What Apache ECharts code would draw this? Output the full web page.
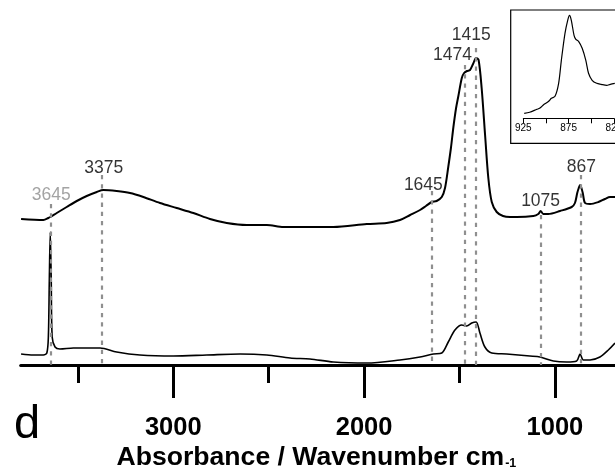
<!DOCTYPE html>
<html>
<head>
<meta charset="utf-8">
<script src="https://cdn.jsdelivr.net/npm/echarts@6/dist/echarts.min.js"></script>
<style>
html,body{margin:0;padding:0;background:#fff;}
#chart{width:615px;height:472px;}
</style>
</head>
<body>
<div id="chart"></div>
<script>
// ---- data (wavenumber in cm-1, absorbance in arbitrary units) ----
const upperWavenumber = [3798,3681,3655,3645,3611,3559,3506,3454,3401,3367,3297,3227,3157,3070,2982,2895,2808,2720,2615,2510,2423,2336,2161,1986,1882,1812,1759,1707,1676,1646,1620,1593,1576,1559,1545,1532,1518,1506,1488,1476,1461,1445,1429,1413,1400,1384,1366,1349,1331,1305,1272,1235,1200,1113,1087,1075,1061,1035,973,912,895,883,875,868,861,854,842,816,772,738,711,685];
const upperAbs = [146,145,147,148,152,158,164,169,173,175,174,172,168,162,157,152,146,142,140,140,138,138,138,141,142,145,150,155,159,163,164,168,177,198,217,238,257,269,287,292,294,295,301,307,305,277,230,187,163,153,149,148,148,149,151,154,151,151,154,158,162,172,177,180,177,172,162,161,163,166,168,168];

const lowerWavenumber = [3798,3734,3681,3663,3655,3650,3645,3640,3635,3620,3594,3524,3384,3297,3175,3000,2825,2650,2510,2388,2284,2161,1986,1812,1707,1637,1593,1559,1524,1488,1462,1436,1413,1393,1367,1331,1253,1131,1078,1008,938,886,868,851,816,764,720,685];
const lowerAbs = [11,10,10,12,28,85,133,85,28,18,16,17,17,13,10,9,10,11,10,7,6,3,2,5,8,11,12,23,35,40,39,42,43,32,18,12,11,9,8,4,3,4,11,5,5,8,15,22];

const insetWavenumber = [924,918,910,907,902,897,894,890,886,883,879,876,874,872,869,867,864,860,856,853,849,844,839,833,829,824];
const insetAbs = [5,6,9,10,14,17,20,22,35,58,85,98,103,98,83,79,77,70,58,45,38,35,34,33,34,35];

const peakLabels = ['3645','3375','1645','1474','1415','1075','867'];
const peakWavenumber = [3645,3375,1645,1474,1415,1075,867];
const peakTop = [161,190,174,300,317,150,190];

const mainTicks = [0,1000,2000,3000,4000];
const insetTicks = [825,875,925];

// ---- styling (not data) ----
const FONT = 'Liberation Sans, Arial, sans-serif';
const labelColor = ['#8c8c8c','#000','#000','#000','#000','#000','#000'];
const labelOffset = [[1,0],[2,2],[-8.5,3],[-12,-1],[-4.5,-4],[0,-5],[1,1]];

const zip = (a,b) => a.map((v,i)=>[v,b[i]]);

const chart = echarts.init(document.getElementById('chart'), null, {renderer:'canvas'});

const hiddenY = (grid, max) => ({gridIndex:grid, type:'value', min:0, max:max, show:false});
const G = {outerBoundsMode:'none', containLabel:false};

chart.setOption({
  animation:false,
  backgroundColor:'#fff',
  title:[
    {
      text:'{a|Absorbance / Wavenumber cm}{s|-1}',
      left:116.5, top:444.5, padding:0,
      textStyle:{
        rich:{
          a:{fontFamily:FONT,fontSize:26.6,fontWeight:'bold',color:'#000',lineHeight:26},
          s:{fontFamily:FONT,fontSize:12.5,fontWeight:'bold',color:'#000',verticalAlign:'bottom',lineHeight:11,padding:[0,0,0,1]}
        }
      }
    },
    {
      text:'d', left:14, top:402, padding:0,
      textStyle:{fontFamily:FONT,fontSize:47,fontWeight:'normal',color:'#000',lineHeight:47}
    }
  ],
  grid:[
    Object.assign({left:20.7, top:0, width:725, height:365}, G),           // main data
    Object.assign({left:-17.5, top:0, width:763.2, height:365}, G),        // main ticks
    Object.assign({left:523.3, top:10.3, width:90.6, height:108}, G),      // inset plot
    Object.assign({left:510.7, top:10, width:200, height:133.3, show:true, borderColor:'#000', borderWidth:1.2, backgroundColor:'transparent'}, G) // inset frame
  ],
  xAxis:[
    {gridIndex:0, type:'value', min:0, max:3800, inverse:true,
     axisLine:{show:true,onZero:false,lineStyle:{color:'#000',width:3}},
     axisTick:{show:false}, axisLabel:{show:false}, splitLine:{show:false}},
    {gridIndex:1, type:'value', min:mainTicks[0], max:mainTicks[mainTicks.length-1], interval:1000, inverse:true,
     axisLine:{show:false},
     axisTick:{show:true,length:33,lineStyle:{color:'#000',width:3}},
     minorTick:{show:true,splitNumber:2,length:18,lineStyle:{color:'#000',width:3}},
     axisLabel:{show:true,margin:49.5,fontFamily:FONT,fontSize:25.5,fontWeight:'bold',color:'#000',
       formatter:v => (v>0 && v<4000) ? String(v) : ''},
     splitLine:{show:false}, minorSplitLine:{show:false}},
    {gridIndex:2, type:'value', min:insetTicks[0], max:insetTicks[insetTicks.length-1], interval:50, inverse:true,
     axisLine:{show:true,onZero:false,lineStyle:{color:'#000',width:1}},
     axisTick:{show:true,length:5,lineStyle:{color:'#000',width:1}},
     minorTick:{show:true,splitNumber:2,length:5,lineStyle:{color:'#000',width:1}},
     axisLabel:{show:true,margin:4.5,fontFamily:FONT,fontSize:10,color:'#000',showMinLabel:true,showMaxLabel:true},
     splitLine:{show:false}, minorSplitLine:{show:false}},
    {gridIndex:3, type:'value', show:false}
  ],
  yAxis:[hiddenY(0,365), hiddenY(1,365), hiddenY(2,108), hiddenY(3,1)],
  series:[
    {
      type:'line', xAxisIndex:0, yAxisIndex:0, data:[], silent:true,
      markLine:{
        silent:true, symbol:['none','none'], animation:false,
        label:{show:false},
        lineStyle:{color:'#8f8f8f',width:2.2,type:[4.3,4.9]},
        data: peakWavenumber.map((w,i)=>[{coord:[w,peakTop[i]]},{coord:[w,0]}])
      }
    },
    {
      type:'line', xAxisIndex:0, yAxisIndex:0, data:zip(upperWavenumber,upperAbs),
      showSymbol:false, smooth:0.3, lineStyle:{color:'#000',width:2}, silent:true
    },
    {
      type:'line', xAxisIndex:0, yAxisIndex:0, data:zip(lowerWavenumber,lowerAbs),
      showSymbol:false, smooth:0.3, lineStyle:{color:'#000',width:1.6}, silent:true
    },
    {
      type:'scatter', xAxisIndex:0, yAxisIndex:0, symbolSize:0, silent:true,
      data: peakWavenumber.map((w,i)=>({
        value:[w,peakTop[i]],
        label:{show:true,position:'top',distance:0,formatter:peakLabels[i],
          color:labelColor[i],offset:labelOffset[i],
          fontFamily:FONT,fontSize:17.5,lineHeight:18}
      }))
    },
    {
      type:'line', xAxisIndex:2, yAxisIndex:2, data:zip(insetWavenumber,insetAbs),
      showSymbol:false, smooth:0.3, lineStyle:{color:'#000',width:1.2}, silent:true
    }
  ]
});
</script>
</body>
</html>
